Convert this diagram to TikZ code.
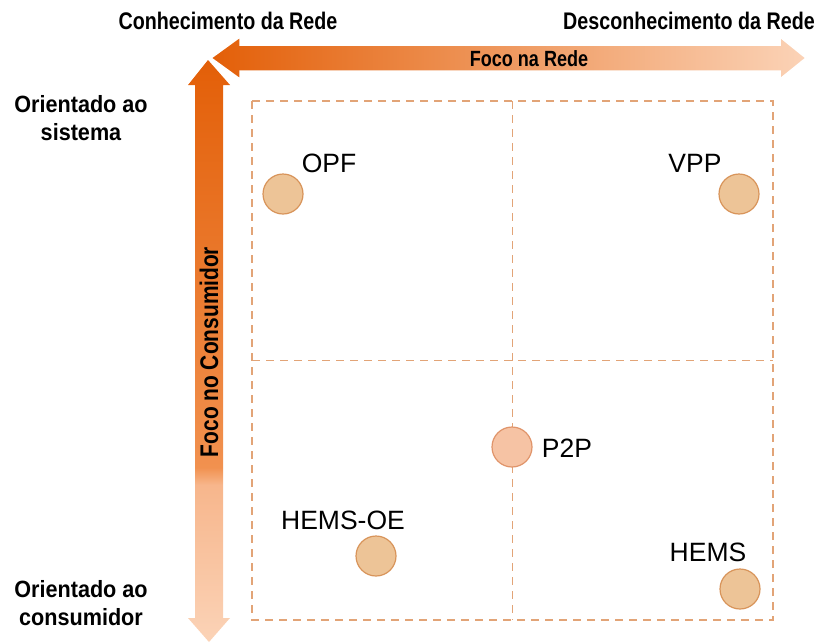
\documentclass[tikz,border=0pt]{standalone}
\usepackage{fontspec}
\setmainfont{Liberation Sans}
\newfontfamily\narrowfont[FakeStretch=0.82]{Liberation Sans}
\newfontfamily\sidefont[FakeStretch=0.92]{Liberation Sans}
\definecolor{darkorg}{HTML}{E35F08}
\definecolor{midorg}{HTML}{F1914F}
\definecolor{paleorg}{HTML}{F7B68C}
\definecolor{lightorg}{HTML}{FBD3B7}
\definecolor{dashorg}{HTML}{E2A477}
\definecolor{dotfill}{HTML}{EDC497}
\definecolor{dotedge}{HTML}{D8945A}
\definecolor{ptpfill}{HTML}{F6C3A4}
\definecolor{ptpedge}{HTML}{E0946A}
\pgfdeclareverticalshading{focovert}{100bp}{color(0bp)=(lightorg); color(25bp)=(lightorg); color(38.5bp)=(paleorg); color(40bp)=(midorg); color(75bp)=(darkorg); color(100bp)=(darkorg)}
\tikzset{
  axistext/.style={font=\narrowfont\bfseries\fontsize{24}{26}\selectfont},
  sidetext/.style={font=\sidefont\bfseries\fontsize{23.5}{28}\selectfont, align=center},
  lbl/.style={font=\fontsize{26.5}{28}\selectfont},
  dot/.style={circle, minimum size=40pt, inner sep=0pt, fill=dotfill, draw=dotedge, line width=1.2pt},
  boxline/.style={dashorg, line width=1.4pt, dash pattern=on 8pt off 6pt}
}
\begin{document}
\begin{tikzpicture}[x=1pt,y=-1pt]
\useasboundingbox (0,0) rectangle (816,643);
% eixos
\shade[shading=focovert] (208,60)--(230,85)--(223,85)--(223,618)--(230,618)--(209,642)--(188,618)--(195,618)--(195,85)--(188,85)--cycle;
\shadedraw[left color=darkorg, right color=lightorg, draw=white, line width=1.5pt] (211,58)--(240,37)--(240,45)--(780,45)--(780,37)--(806,58)--(780,79)--(780,71)--(240,71)--(240,79)--cycle;
\node[axistext, font=\narrowfont\bfseries\fontsize{22}{24}\selectfont] (focorede) at (529,59) {Foco na Rede};
\node[axistext, font=\narrowfont\bfseries\fontsize{25.5}{26}\selectfont, rotate=90] (fococons) at (209,352) {Foco no Consumidor};
\node[axistext] (conhec) at (228,21) {Conhecimento da Rede};
\node[axistext] (desconhec) at (689,21) {Desconhecimento da Rede};
\node[sidetext] (sistema) at (81,118) {Orientado ao\\sistema};
\node[sidetext] (consumidor) at (81,603) {Orientado ao\\consumidor};
% quadrantes
\draw[boxline] (252,101) rectangle (773,620);
\draw[boxline] (512.5,101)--(512.5,620);
\draw[boxline] (252,360.5)--(773,360.5);
% estrategias
\node[dot] (opf) at (283,194) {};
\node[lbl] (opflbl) at (329,163) {OPF};
\node[dot] (vpp) at (739,194) {};
\node[lbl] (vpplbl) at (695,163) {VPP};
\node[dot, fill=ptpfill, draw=ptpedge] (ptp) at (512,447) {};
\node[lbl] (ptplbl) at (567,448) {P2P};
\node[dot] (hemsoe) at (376,556) {};
\node[lbl] (hemsoelbl) at (343,520) {HEMS-OE};
\node[dot] (hems) at (740,589) {};
\node[lbl] (hemslbl) at (708,552) {HEMS};
\end{tikzpicture}
\end{document}
